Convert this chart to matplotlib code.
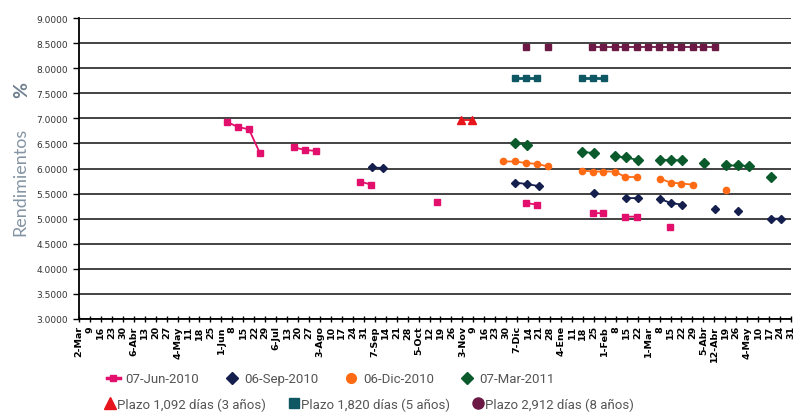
import numpy as np
import matplotlib.pyplot as plt
from matplotlib.lines import Line2D

nan = np.nan

# etiquetas semanales del eje x (mar-2010 a may-2011)
semanas = ["2-Mar", "9", "16", "23", "30", "6-Abr", "13", "20", "27", "4-May", "11", "18", "25",
           "1-Jun", "8", "15", "22", "29", "6-Jul", "13", "20", "27", "3-Ago", "10", "17", "24", "31",
           "7-Sep", "14", "21", "28", "5-Oct", "12", "19", "26", "3-Nov", "9", "16", "23", "30",
           "7-Dic", "14", "21", "28", "4-Ene", "11", "18", "25", "1-Feb", "8", "15", "22",
           "1-Mar", "8", "15", "22", "29", "5-Abr", "12-Abr", "19", "26", "4-May", "10", "17", "24", "31"]

# posicion en semanas (0 = 2-Mar-2010) y rendimiento ; nan = corte de la linea
x_jun10 = [13.49, 14.49, 15.52, 16.53, nan, 19.63, 20.64, 21.62, nan, 25.63, 26.67, nan, 32.72, nan,
           40.82, 41.83, nan, 46.91, 47.88, nan, 49.89, 50.93, nan, 53.97]
y_jun10 = [6.93, 6.83, 6.78, 6.30, nan, 6.42, 6.37, 6.35, nan, 5.74, 5.68, nan, 5.33, nan,
           5.31, 5.28, nan, 5.11, 5.11, nan, 5.04, 5.04, nan, 4.84]

x_sep10 = [26.76, 27.79, nan, 39.82, 40.88, 41.95, nan, 46.97, nan, 49.95, 51.02, nan,
           53.06, 54.06, 55.07, nan, 58.08, nan, 60.15, nan, 63.2, 64.1]
y_sep10 = [6.02, 6.01, nan, 5.72, 5.69, 5.65, nan, 5.51, nan, 5.41, 5.41, nan,
           5.39, 5.31, 5.28, nan, 5.19, nan, 5.15, nan, 5.00, 5.00]

x_dic10 = [38.75, 39.76, 40.82, 41.83, 42.83, nan, 45.9, 46.91, 47.88, 48.89, 49.89, 50.93, nan,
           53.0, 54.0, 55.0, 56.01, nan, 59.03]
y_dic10 = [6.14, 6.14, 6.11, 6.09, 6.04, nan, 5.96, 5.94, 5.94, 5.94, 5.83, 5.83, nan,
           5.80, 5.72, 5.70, 5.68, nan, 5.57]

x_mar11 = [39.82, 40.91, nan, 45.91, 46.97, nan, 48.95, 49.95, 51.02, nan, 53.06, 54.06, 55.07, nan,
           57.08, nan, 59.06, 60.12, 61.16, nan, 63.2]
y_mar11 = [6.51, 6.47, nan, 6.33, 6.31, nan, 6.24, 6.22, 6.17, nan, 6.17, 6.17, 6.16, nan,
           6.11, nan, 6.06, 6.06, 6.05, nan, 5.84]

x_3a = [34.89, 35.87]
y_3a = [6.97, 6.97]

x_5a = [39.82, 40.82, 41.83, nan, 45.9, 46.9, 47.9]
y_5a = [7.80, 7.80, 7.80, nan, 7.80, 7.80, 7.80]

x_8a = [40.82, nan, 42.83, nan, 46.82, 47.85, 48.89, 49.89, 50.93, 51.96, 52.97, 53.97, 54.98, 56.01, 57.01, 58.02]
y_8a = [8.43, nan, 8.43, nan, 8.43, 8.43, 8.43, 8.43, 8.43, 8.43, 8.43, 8.43, 8.43, 8.43, 8.43, 8.43]

rosa = "#e2106c"
marino = "#141f4d"
naranja = "#ff6b14"
verde = "#0b5a2c"
rojo = "#e8141b"
azul = "#0f5763"
morado = "#6c1a45"

angosta = ["Roboto", "DejaVu Sans"]

fig = plt.figure(figsize=(8.01, 4.14), dpi=100)
ax = fig.add_axes([79/801, 1-320/414, (791-79)/801, (320-19)/414])

ax.plot(x_jun10, y_jun10, color=rosa, marker="s", ms=4, lw=1.3)
ax.plot(x_sep10, y_sep10, color=marino, marker="D", ms=4, lw=1.3)
ax.plot(x_dic10, y_dic10, color=naranja, marker="o", ms=4.5, lw=1.3)
ax.plot(x_mar11, y_mar11, color=verde, marker="D", ms=5, lw=1.3)
ax.plot(x_3a, y_3a, color=rojo, marker="^", ms=6, lw=1.3)
ax.plot(x_5a, y_5a, color=azul, marker="s", ms=4.5, lw=2)
ax.plot(x_8a, y_8a, color=morado, marker="s", ms=4.5, lw=1.3)

ax.set_ylim(3, 9)
ax.set_yticks(np.arange(3, 9.01, 0.5))
ax.set_yticklabels(["{:.4f}".format(v) for v in np.arange(3, 9.01, 0.5)], fontsize=6.5, color="#333333")
ax.set_xlim(0, 65)
ax.set_xticks(range(len(semanas)))
ax.set_xticklabels(semanas, rotation=90, fontsize=6.8, fontweight="bold", family=["DejaVu Sans"], va="top")
ax.tick_params(axis="x", direction="inout", length=5, width=1, pad=2)
ax.tick_params(axis="y", direction="out", length=4, width=1, pad=4)
ax.grid(axis="y", color="#222222", lw=1.2)
ax.set_axisbelow(True)
for s in ["top", "right"]:
    ax.spines[s].set_visible(False)
ax.spines["left"].set_linewidth(1.3)
ax.spines["bottom"].set_linewidth(1.3)

fig.text(0.026, 0.56, "Rendimientos", rotation=90, ha="center", va="center", fontsize=13,
         color="#8494a4", family=["Lato", "DejaVu Sans"])
fig.text(0.027, 0.783, "%", rotation=90, ha="center", va="center", fontsize=14,
         color="#6e7e8e", fontweight="bold", family=["Lato", "DejaVu Sans"])

fila1 = [Line2D([], [], color=rosa, marker="s", ms=5, lw=2.5),
         Line2D([], [], color=marino, marker="D", ms=6, lw=0),
         Line2D([], [], color=naranja, marker="o", ms=7, lw=0),
         Line2D([], [], color=verde, marker="D", ms=6, lw=0)]
fila2 = [Line2D([], [], color=rojo, marker="^", ms=8, lw=0),
         Line2D([], [], color=azul, marker="s", ms=7, lw=0),
         Line2D([], [], color=morado, marker="o", ms=8, lw=0)]

fig.legend(fila1, ["07-Jun-2010", "06-Sep-2010", "06-Dic-2010", "07-Mar-2011"], loc="center left",
           bbox_to_anchor=(0.125, 0.083), ncol=4, frameon=False, handlelength=1.0, handletextpad=0.4,
           columnspacing=2.0, borderpad=0, prop={"family": angosta, "size": 9.5}, labelcolor="#555555")
fig.legend(fila2, ["Plazo 1,092 días (3 años)", "Plazo 1,820 días (5 años)", "Plazo 2,912 días (8 años)"],
           loc="center left", bbox_to_anchor=(0.124, 0.022), ncol=3, frameon=False, handlelength=0.6,
           handletextpad=0.25, columnspacing=1.8, borderpad=0, prop={"family": angosta, "size": 9.5},
           labelcolor="#555555")

fig.savefig("out.png", dpi=100)
